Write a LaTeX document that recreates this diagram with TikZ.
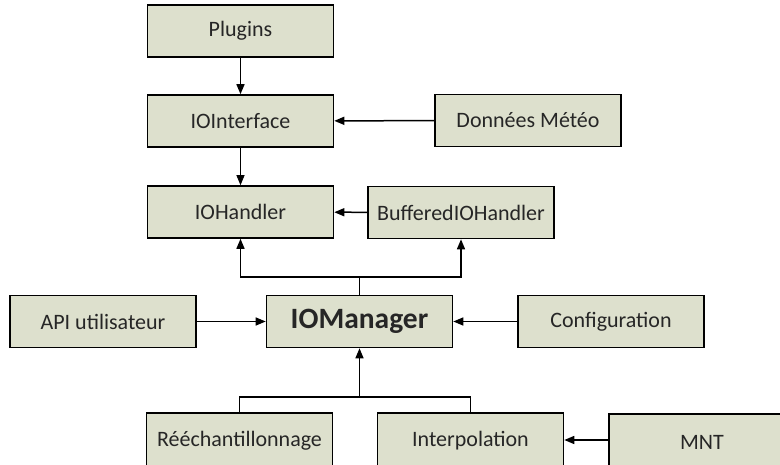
\documentclass[tikz,border=0pt]{standalone}
\usepackage{fontspec}
\setmainfont{Carlito}
\usetikzlibrary{arrows.meta}
\definecolor{boxfill}{RGB}{221,224,205}
\definecolor{ink}{RGB}{38,38,38}
\tikzset{
  block/.style={draw=black, line width=1.6pt, fill=boxfill, text=ink,
    minimum width=186pt, minimum height=52pt, inner sep=0pt,
    font=\fontsize{22}{26}\selectfont},
  link/.style={line width=1.5pt, -{Triangle[length=10pt,width=8pt]}},
  thinlink/.style={line width=1pt, -{Triangle[length=10pt,width=8pt]}},
  wire/.style={line width=1.5pt}
}
\begin{document}
\begin{tikzpicture}[x=1pt,y=-1pt]
\useasboundingbox (0,0) rectangle (780,465);
\clip (0,0) rectangle (780,465);
\fill[white] (0,0) rectangle (780,465);

% component boxes
\node[block] (plugins) at (240.5,31) {Plugins};
\node[block] (ioif) at (240.5,121) {IOInterface};
\node[block] (meteo) at (528,120.5) {Données Météo};
\node[block] (ioh) at (240.5,212) {IOHandler};
\node[block] (buf) at (461,212.5) {BufferedIOHandler};
\node[block] (api) at (103,321.5) {API utilisateur};
\node[block, font=\fontsize{29.5}{34}\selectfont\bfseries] (mgr) at (359.5,321.5) {IOManager};
\node[block] (conf) at (611,321.5) {Configuration};
\node[block, minimum height=56pt] (resamp) at (239.5,441) {Rééchantillonnage};
\node[block, minimum height=56pt] (interp) at (470.5,441) {Interpolation};
\node[block, minimum height=56pt, text width=186pt, align=center] (mnt) at (702,442) {MNT};

% junction points of the branching wires
\coordinate (topbus) at (359.5,277);
\coordinate (botbus) at (359.5,397);

% connectors
\draw[link] (plugins) -- (ioif);
\draw[link] (meteo) -- (ioif);
\draw[thinlink] (ioif) -- (ioh);
\draw[link] (buf) -- (ioh);
\draw[wire] (mgr.north) -- (topbus);
\draw[link] (topbus) -| (ioh.south);
\draw[link] (topbus) -| (buf.south);
\draw[link] (api) -- (mgr);
\draw[link] (conf) -- (mgr);
\draw[wire] (resamp.north) |- (botbus);
\draw[wire] (interp.north) |- (botbus);
\draw[link] (botbus) -- (mgr.south);
\draw[link] (mnt.west |- 0,440) -- (interp.east |- 0,440);
\end{tikzpicture}
\end{document}
